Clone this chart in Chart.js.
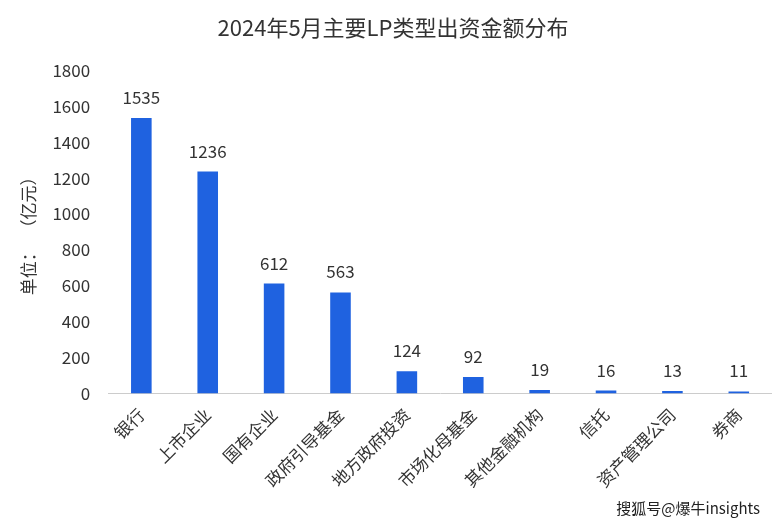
<!DOCTYPE html>
<html>
<head>
<meta charset="utf-8">
<script src="https://cdn.jsdelivr.net/npm/chart.js@4"></script>
<style>
  body { margin: 0; background: #fff; }
  #wrap { position: relative; width: 772px; height: 524px; }
  #mark { position: absolute; right: 12px; bottom: 6px; font: 15px "Noto Sans CJK SC"; color: #222; }
</style>
</head>
<body>
<div id="wrap">
  <canvas id="lpChart" width="772" height="524"></canvas>
  <div id="mark">搜狐号@爆牛insights</div>
</div>
<script>
let categories = ["银行", "上市企业", "国有企业", "政府引导基金", "地方政府投资", "市场化母基金", "其他金融机构", "信托", "资产管理公司", "券商"];
let amounts = [1535, 1236, 612, 563, 124, 92, 19, 16, 13, 11];

let valueLabels = {
    id: "valueLabels",
    afterDatasetsDraw(chart) {
        let ctx = chart.ctx;
        let meta = chart.getDatasetMeta(0);
        ctx.save();
        ctx.font = "17px 'Noto Sans CJK SC'";
        ctx.fillStyle = "#333";
        ctx.textAlign = "center";
        ctx.textBaseline = "bottom";
        meta.data.forEach((bar, i) => {
            ctx.fillText(amounts[i], bar.x, bar.y - 12);
        });
        ctx.restore();
    }
};

new Chart(document.getElementById("lpChart").getContext("2d"), {
    type: "bar",
    data: {
        labels: categories,
        datasets: [{
            data: amounts,
            backgroundColor: "#1f62e0",
            barPercentage: 0.31,
            categoryPercentage: 1
        }]
    },
    options: {
        responsive: false,
        animation: false,
        layout: { padding: { left: 14, right: 0, top: 8, bottom: 30 } },
        plugins: {
            legend: { display: false },
            tooltip: { enabled: false },
            title: {
                display: true,
                text: "2024年5月主要LP类型出资金额分布",
                font: { size: 22, family: "Noto Sans CJK SC", weight: "normal" },
                color: "#333",
                padding: { top: 6, bottom: 30 }
            }
        },
        scales: {
            y: {
                min: 0, max: 1800,
                ticks: { stepSize: 200, color: "#333", font: { size: 17, family: "Noto Sans CJK SC" }, padding: 10,
                    callback: v => String(v) },
                grid: { display: false },
                border: { display: false },
                title: { display: true, text: "单位：  （亿元）", color: "#333", font: { size: 17, family: "Noto Sans CJK SC" } }
            },
            x: {
                ticks: { color: "#333", font: { size: 17, family: "Noto Sans CJK SC" }, maxRotation: 45, minRotation: 45 },
                grid: { display: false },
                border: { color: "#ccc" }
            }
        }
    },
    plugins: [valueLabels]
});
</script>
</body>
</html>
